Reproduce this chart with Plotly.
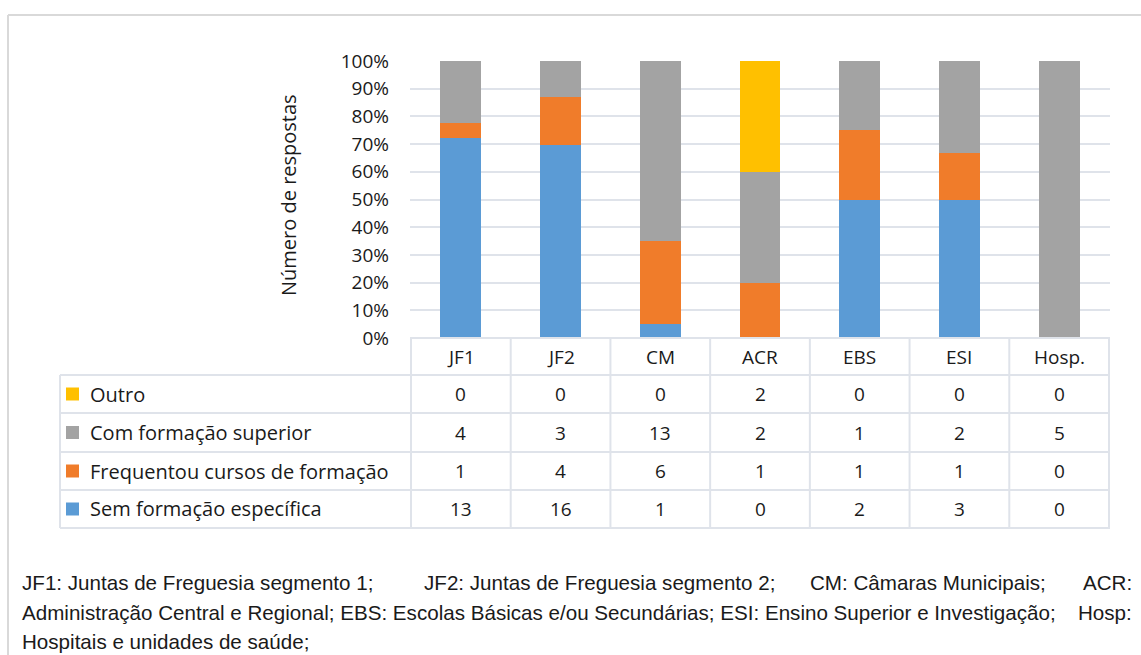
import plotly.graph_objects as go

categories = ["JF1", "JF2", "CM", "ACR", "EBS", "ESI", "Hosp."]
sem_formacao = [13, 16, 1, 0, 2, 3, 0]
frequentou = [1, 4, 6, 1, 1, 1, 0]
com_superior = [4, 3, 13, 2, 1, 2, 5]
outro = [0, 0, 0, 2, 0, 0, 0]

series = [
    ("Sem formação específica", sem_formacao, "#5B9BD5"),
    ("Frequentou cursos de formação", frequentou, "#F07C2A"),
    ("Com formação superior", com_superior, "#A3A3A3"),
    ("Outro", outro, "#FFC000"),
]

# footer text, split into pieces so the justified look can be approximated
footer_lines = [
    ["JF1: Juntas de Freguesia segmento 1;", "JF2: Juntas de Freguesia segmento 2;",
     "CM: Câmaras Municipais;", "ACR:"],
    ["Administração Central e Regional; EBS: Escolas Básicas e/ou Secundárias; ESI: Ensino Superior e Investigação;",
     "Hosp:"],
    ["Hospitais e unidades de saúde;"],
]

W, H = 1141, 655
L, R, T, B = 410, 31, 61, 317
ph = H - T - B
pw = W - L - R
text_col = "#1a1a1a"
grid_col = "#DFE3EA"
font = "Open Sans, Lato, sans-serif"
fsize = 20


def py(y):  # pixel y -> paper y
    return (H - B - y) / ph


def px_(x):  # pixel x -> paper x
    return (x - L) / pw


fig = go.Figure()
for name, vals, col in series:
    fig.add_trace(go.Bar(x=categories, y=vals, name=name, marker_color=col,
                         marker_line_width=0, width=0.41, showlegend=False))

shapes = []
annotations = []

# table geometry
row_edges = [338, 375, 413, 452, 490, 528]
table_left = 60
line_style = dict(color=grid_col, width=2)
shapes.append(dict(type="line", xref="paper", yref="paper", x0=0, x1=1,
                   y0=py(row_edges[0]), y1=py(row_edges[0]), line=line_style))
for ye in row_edges[1:]:
    shapes.append(dict(type="line", xref="paper", yref="paper", x0=px_(table_left), x1=1,
                       y0=py(ye), y1=py(ye), line=line_style))
for i in range(len(categories) + 1):
    shapes.append(dict(type="line", xref="x", yref="paper", x0=i - 0.5, x1=i - 0.5,
                       y0=py(row_edges[0]), y1=py(row_edges[-1]), line=line_style))
shapes.append(dict(type="line", xref="paper", yref="paper", x0=px_(table_left), x1=px_(table_left),
                   y0=py(row_edges[1]), y1=py(row_edges[-1]), line=line_style))

# header labels
hy = (row_edges[0] + row_edges[1]) / 2
for i, c in enumerate(categories):
    annotations.append(dict(x=i, y=py(hy), xref="x", yref="paper", text=c, showarrow=False,
                            xanchor="center", yanchor="middle",
                            font=dict(size=19, color=text_col, family=font)))

# data rows (top to bottom = reversed stack order)
for r, (name, vals, col) in enumerate(reversed(series)):
    yc = (row_edges[r + 1] + row_edges[r + 2]) / 2
    shapes.append(dict(type="rect", xref="paper", yref="paper", x0=px_(66), x1=px_(79),
                       y0=py(yc + 6.5), y1=py(yc - 6.5), fillcolor=col, line_width=0))
    annotations.append(dict(x=px_(88), y=py(yc), xref="paper", yref="paper", text=name,
                            xanchor="left", yanchor="middle", showarrow=False,
                            font=dict(size=fsize, color=text_col, family=font)))
    for i, v in enumerate(vals):
        annotations.append(dict(x=i, y=py(yc), xref="x", yref="paper", text=str(v), showarrow=False,
                                xanchor="center", yanchor="middle",
                                font=dict(size=19, color=text_col, family=font)))

# y-axis title
annotations.append(dict(x=px_(288), y=py(195), xref="paper", yref="paper", text="Número de respostas",
                        textangle=-90, showarrow=False, xanchor="center", yanchor="middle",
                        font=dict(size=fsize, color=text_col, family=font)))

# outer frame (left and top edges visible)
frame = dict(color="#D9D9D9", width=2)
shapes.append(dict(type="line", xref="paper", yref="paper", x0=px_(8), x1=px_(8), y0=py(15), y1=py(H + 5), line=frame))
shapes.append(dict(type="line", xref="paper", yref="paper", x0=px_(8), x1=px_(W + 5), y0=py(15), y1=py(15), line=frame))

# footer
foot_y = [582, 612, 641]
starts = [
    [20, 422, 808, None],
    [20, None],
    [20],
]
for line, yy, xs in zip(footer_lines, foot_y, starts):
    for j, chunk in enumerate(line):
        if xs[j] is None:
            xa, xx = "right", 1134
        else:
            xa, xx = "left", xs[j]
        annotations.append(dict(x=px_(xx), y=py(yy), xref="paper", yref="paper", text=chunk,
                                xanchor=xa, yanchor="middle", showarrow=False,
                                font=dict(size=20.6, color=text_col, family="Liberation Sans, Arial")))

fig.update_layout(
    barmode="stack", barnorm="percent",
    width=W, height=H,
    margin=dict(l=L, r=R, t=T, b=B, pad=0),
    paper_bgcolor="white", plot_bgcolor="white",
    shapes=shapes, annotations=annotations,
    xaxis=dict(showticklabels=False, showgrid=False, zeroline=False, showline=False, ticks=""),
    yaxis=dict(range=[0, 100], dtick=10, ticksuffix="%", showgrid=True, gridcolor=grid_col, gridwidth=2,
               zeroline=False, showline=False, ticks="", ticklabelstandoff=20,
               tickfont=dict(size=19, color=text_col, family=font)),
)

fig.write_html("out.html", config={"displayModeBar": False},
               post_script="document.body.style.margin='0px';")
